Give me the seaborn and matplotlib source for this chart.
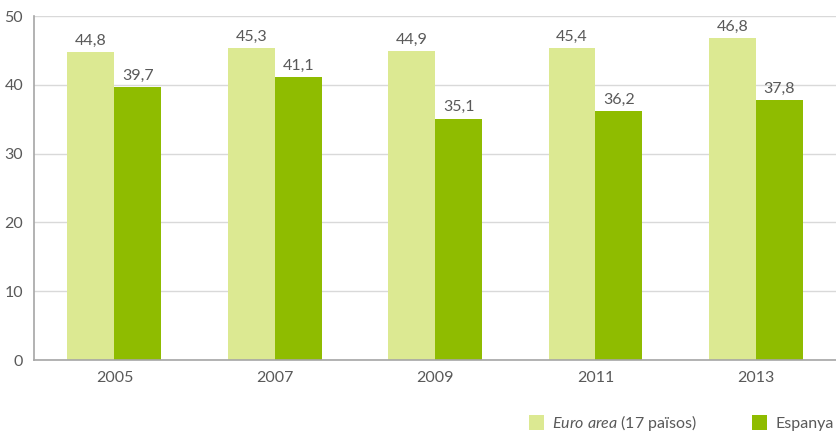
import matplotlib
matplotlib.use("Agg")
import matplotlib.pyplot as plt
import seaborn as sns
import pandas as pd

years = ["2005", "2007", "2009", "2011", "2013"]
euro_area = [44.8, 45.3, 44.9, 45.4, 46.8]
espanya = [39.7, 41.1, 35.1, 36.2, 37.8]
series_names = ["$\\it{Euro\\ area}$ (17 països)", "Espanya"]

df = pd.DataFrame({
    "year": years * 2,
    "value": euro_area + espanya,
    "serie": [series_names[0]] * len(years) + [series_names[1]] * len(years),
})

sns.set_style("white")
plt.rcParams["font.family"] = ["Lato", "DejaVu Sans"]
plt.rcParams["mathtext.fontset"] = "custom"
plt.rcParams["mathtext.it"] = "Lato:italic"
plt.rcParams["mathtext.rm"] = "Lato"

text_color = "#595959"
palette = ["#dce992", "#8fbc00"]

fig = plt.figure(figsize=(8.36, 4.45), dpi=100)
ax = fig.add_axes([0.041, 0.191, 0.959, 0.773])

sns.barplot(
    data=df,
    x="year",
    y="value",
    hue="serie",
    palette=palette,
    width=0.586,
    gap=0,
    saturation=1,
    linewidth=0,
    ax=ax,
    legend=True,
)

for container in ax.containers:
    ax.bar_label(
        container,
        labels=[f"{v:.1f}".replace(".", ",") for v in container.datavalues],
        padding=3,
        fontsize=11.5,
        color=text_color,
    )

ax.set_ylim(0, 50)
ax.set_yticks(range(0, 51, 10))
ax.yaxis.grid(True, color="#d9d9d9", linewidth=1)
ax.set_axisbelow(True)
ax.set_xlabel("")
ax.set_ylabel("")
ax.tick_params(axis="both", length=0, labelsize=11.5, colors=text_color)
ax.tick_params(axis="x", pad=8)
ax.tick_params(axis="y", pad=8)
for side in ["top", "right"]:
    ax.spines[side].set_visible(False)
for side in ["left", "bottom"]:
    ax.spines[side].set_color("#a6a6a6")
    ax.spines[side].set_linewidth(1.2)

handles, labels = ax.get_legend_handles_labels()
ax.get_legend().remove()
leg = fig.legend(
    handles,
    labels,
    loc="lower left",
    bbox_to_anchor=(0.615, -0.005),
    ncol=2,
    frameon=False,
    handlelength=1.0,
    handleheight=1.0,
    handletextpad=0.5,
    columnspacing=3.4,
    fontsize=11.5,
)
for t in leg.get_texts():
    t.set_color(text_color)

fig.savefig("out.png", dpi=100)
